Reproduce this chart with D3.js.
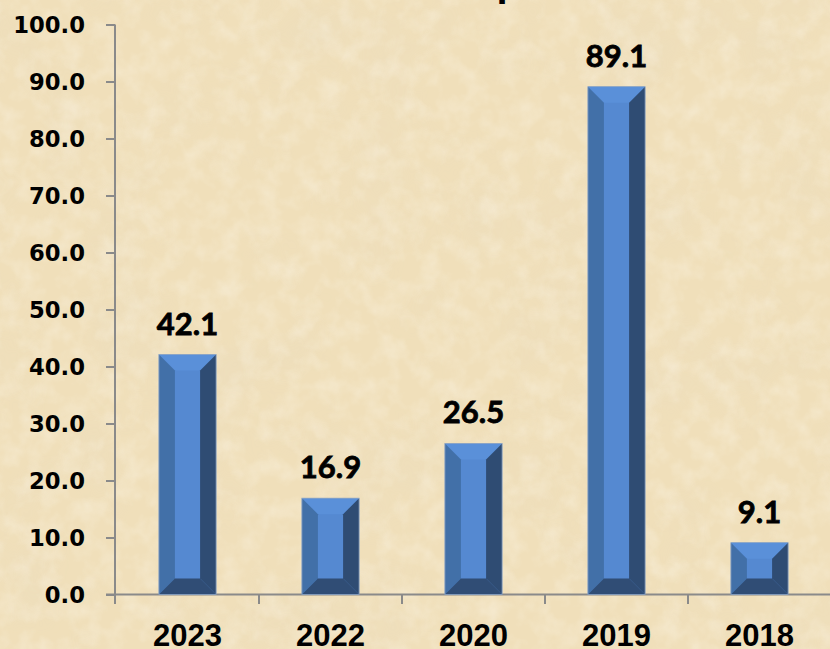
<!DOCTYPE html>
<html><head><meta charset="utf-8">
<script src="https://cdn.jsdelivr.net/npm/d3@7"></script>
<style>html,body{margin:0;padding:0;background:#F0DFBA;}svg{display:block;}</style>
</head><body>
<script>
const categories = ["2023", "2022", "2020", "2019", "2018"];
const values = [42.1, 16.9, 26.5, 89.1, 9.1];
const yTicks = [0, 10, 20, 30, 40, 50, 60, 70, 80, 90, 100];
const titleText = "p";

const W = 830, H = 649;
const svg = d3.select("body").append("svg").attr("width", W).attr("height", H);
const defs = svg.append("defs");

// parchment texture
const f = defs.append("filter").attr("id", "paper").attr("x", 0).attr("y", 0).attr("width", "100%").attr("height", "100%");
f.append("feTurbulence").attr("type", "fractalNoise").attr("baseFrequency", "0.012").attr("numOctaves", 4).attr("seed", 7).attr("result", "n");
f.append("feColorMatrix").attr("in", "n").attr("type", "matrix")
  .attr("values", "0 0 0 0 0.82  0 0 0 0 0.72  0 0 0 0 0.52  0 0 0 -1.6 0.9").attr("result", "c");
f.append("feComposite").attr("in", "c").attr("in2", "SourceGraphic").attr("operator", "in");
const f2 = defs.append("filter").attr("id", "paper2").attr("x", 0).attr("y", 0).attr("width", "100%").attr("height", "100%");
f2.append("feTurbulence").attr("type", "fractalNoise").attr("baseFrequency", "0.05").attr("numOctaves", 3).attr("seed", 3).attr("result", "n");
f2.append("feColorMatrix").attr("in", "n").attr("type", "matrix")
  .attr("values", "0 0 0 0 1  0 0 0 0 0.98  0 0 0 0 0.92  0 0 0 -1.4 0.85").attr("result", "c");
f2.append("feComposite").attr("in", "c").attr("in2", "SourceGraphic").attr("operator", "in");

svg.append("rect").attr("width", W).attr("height", H).attr("fill", "#F0DFBA");
svg.append("rect").attr("width", W).attr("height", H).attr("fill", "#fff").attr("filter", "url(#paper)").attr("opacity", 0.5);
svg.append("rect").attr("width", W).attr("height", H).attr("fill", "#fff").attr("filter", "url(#paper2)").attr("opacity", 0.4);

// title (mostly out of view)
svg.append("text").attr("x", 496.5).attr("y", -4.5).text(titleText)
  .attr("font-family", "Liberation Sans, Arial, sans-serif").attr("font-weight", "bold").attr("font-size", 40).attr("fill", "#000");

const x = d3.scaleBand().domain(categories).range([116, 831]).paddingInner(0.6).paddingOuter(0.3);
const y = d3.scaleLinear().domain([0, 100]).range([594.5, 24.5]);

const axisColor = "#8A8A8A";
// y axis
const yAxis = svg.append("g").attr("transform", "translate(115,0)")
  .call(d3.axisLeft(y).tickValues(yTicks).tickSize(9).tickPadding(21).tickFormat(d3.format(".1f")));
yAxis.select(".domain").remove();
yAxis.selectAll(".tick line").attr("stroke", axisColor).attr("stroke-width", 2);
yAxis.selectAll(".tick text").attr("font-family", "DejaVu Sans, sans-serif").attr("font-weight", "bold")
  .attr("font-size", 22.7).attr("fill", "#000").attr("dy", "0.36em");
svg.append("line").attr("x1", 115).attr("x2", 115).attr("y1", y(100)).attr("y2", 604).attr("stroke", axisColor).attr("stroke-width", 2);

// x axis
svg.append("line").attr("x1", 106).attr("x2", W).attr("y1", y(0)).attr("y2", y(0)).attr("stroke", axisColor).attr("stroke-width", 2);
const bounds = categories.map(c => x(c) - x.step() * 0.3).slice(1);
svg.selectAll(".xt").data(bounds).join("line").attr("class", "xt")
  .attr("x1", d => d).attr("x2", d => d).attr("y1", y(0)).attr("y2", 604).attr("stroke", axisColor).attr("stroke-width", 2);
svg.selectAll(".xl").data(categories).join("text").attr("class", "xl")
  .attr("x", d => x(d) + x.bandwidth() / 2).attr("y", 646).attr("text-anchor", "middle")
  .attr("font-family", "Liberation Sans, Arial, sans-serif").attr("font-weight", "bold").attr("font-size", 31)
  .attr("fill", "#000").text(d => d);

// bevelled bars
const data = categories.map((c, i) => ({c, v: values[i]}));
const bars = svg.selectAll(".bar").data(data).join("g").attr("class", "bar");
bars.each(function(d) {
  const g = d3.select(this);
  const x0 = x(d.c), x1 = x0 + x.bandwidth(), y0 = y(d.v), y1 = y(0);
  const b = Math.min(16, (y1 - y0) / 2 - 1, x.bandwidth() / 2 - 2);
  const poly = (pts, fill) => g.append("polygon").attr("points", pts.map(p => p.join(",")).join(" ")).attr("fill", fill);
  g.append("rect").attr("x", x0).attr("y", y0).attr("width", x1 - x0).attr("height", y1 - y0).attr("fill", "#5589D1");
  poly([[x0, y0], [x1, y0], [x1 - b, y0 + b], [x0 + b, y0 + b]], "#5A90D9");
  poly([[x0, y0], [x0 + b, y0 + b], [x0 + b, y1 - b], [x0, y1]], "#4270A8");
  poly([[x1, y0], [x1, y1], [x1 - b, y1 - b], [x1 - b, y0 + b]], "#2F4C73");
  poly([[x0, y1], [x0 + b, y1 - b], [x1 - b, y1 - b], [x1, y1]], "#304D75");
  g.append("rect").attr("x", x0).attr("y", y0).attr("width", x1 - x0).attr("height", y1 - y0)
    .attr("fill", "none").attr("stroke", "#8FA6C4").attr("stroke-width", 0.8);
});

svg.selectAll(".vl").data(data).join("text").attr("class", "vl")
  .attr("x", d => x(d.c) + x.bandwidth() / 2).attr("y", d => y(d.v) - 20).attr("text-anchor", "middle")
  .attr("font-family", "Lato, sans-serif").attr("font-weight", "bold").attr("font-size", 31)
  .attr("fill", "#000").attr("stroke", "#000").attr("stroke-width", 0.8)
  .text(d => d3.format(".1f")(d.v));
</script>
</body></html>
